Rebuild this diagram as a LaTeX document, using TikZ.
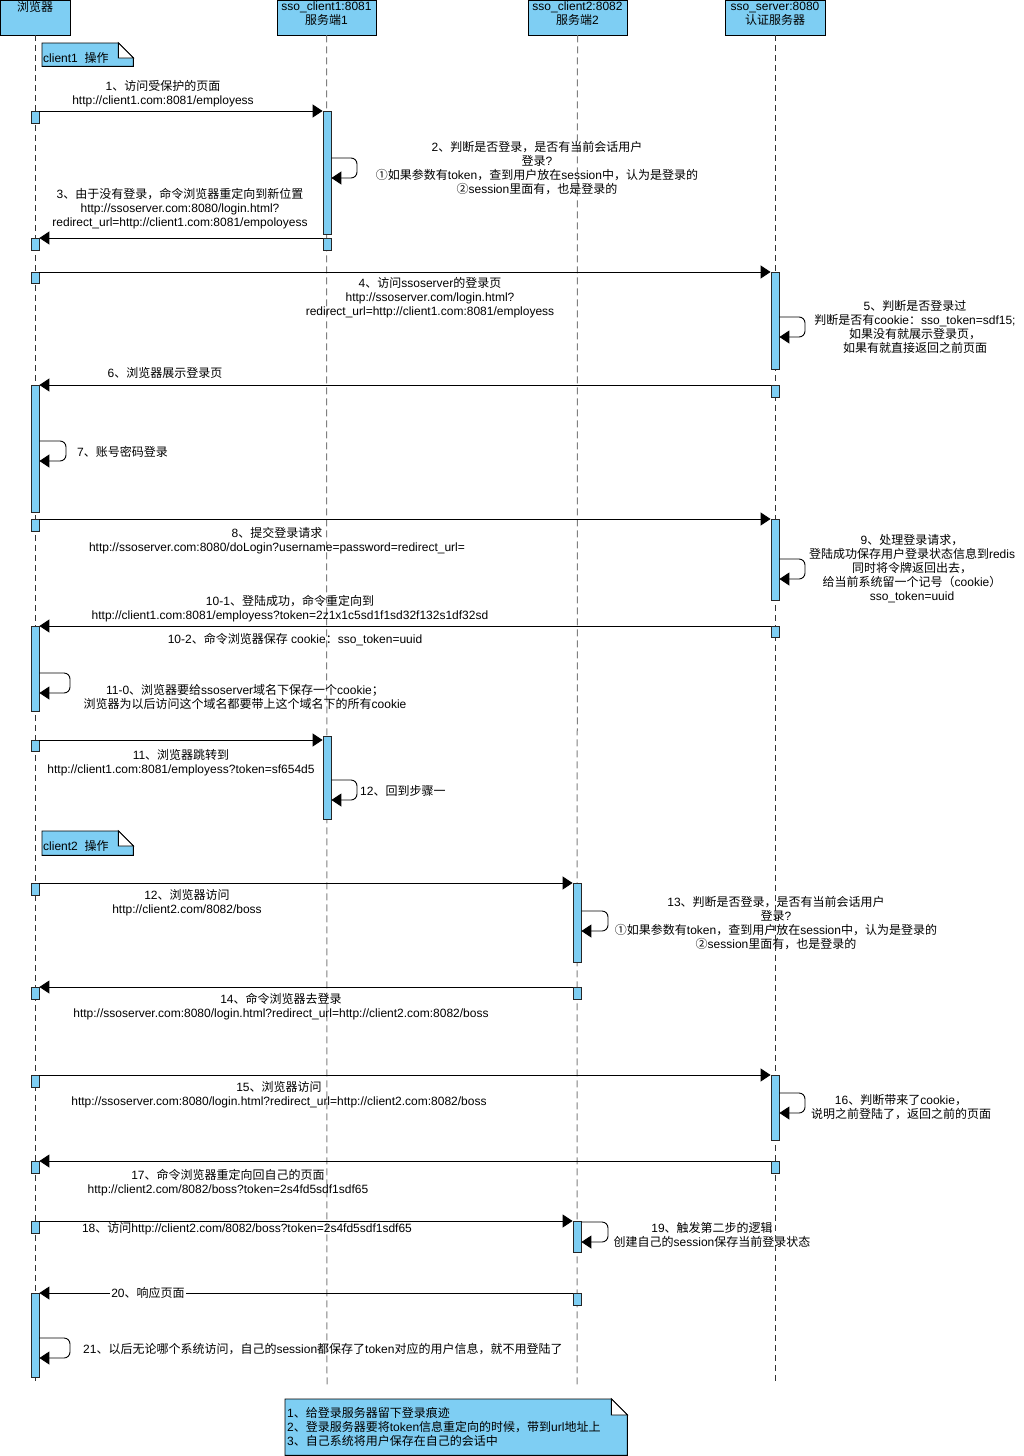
\documentclass[tikz,border=0pt]{standalone}
\usepackage{fontspec}
\setmainfont{Liberation Sans}
\newfontfamily\latinf{Liberation Sans}
\newfontfamily\cjkf{Noto Sans CJK SC}
\XeTeXinterchartokenstate=1
\newXeTeXintercharclass\cjkclass
\newcount\mycnt
\def\setcls#1#2{\mycnt=#1\relax
  \loop\XeTeXcharclass\mycnt=\cjkclass\relax
  \ifnum\mycnt<#2\relax\advance\mycnt by 1\relax\repeat}
\setcls{"3000}{"303F}
\setcls{"4E00}{"9FFF}
\setcls{"FF00}{"FFEF}
\setcls{"2460}{"24FF}
\XeTeXinterchartoks 0 \cjkclass = {\cjkf}
\XeTeXinterchartoks 4095 \cjkclass = {\cjkf}
\XeTeXinterchartoks \cjkclass 0 = {\latinf}
\XeTeXinterchartoks \cjkclass 4095 = {\latinf}
\usetikzlibrary{arrows.meta}
\definecolor{blu}{RGB}{126,206,243}
\begin{document}
\begin{tikzpicture}[x=1pt,y=-1pt,
  font=\fontsize{12}{14}\selectfont,
  headbox/.style={draw=black, line width=0.9pt, fill=blu, minimum height=35, inner sep=0},
  bar/.style={draw=black!85, line width=0.8pt, fill=blu, minimum width=8, anchor=north, inner sep=0},
  lifeA/.style={draw=black!80, line width=0.6pt, dash pattern=on 6pt off 4pt},
  lifeC/.style={draw=gray, line width=1pt, dash pattern=on 7pt off 4pt},
  msg/.style={draw=black, line width=0.9pt, -{Triangle[length=10pt,width=13pt]}},
  selfmsg/.style={msg, rounded corners=6pt},
  lbl/.style={align=center, inner sep=0, text=black, yshift=-0.5pt},
  notebody/.style={draw=black, line width=0.9pt, fill=blu},
  notefold/.style={draw=black, line width=0.9pt, fill=white},
]
\useasboundingbox (0,0) rectangle (1023,1456);

% ---------- heads ----------
\node[headbox, minimum width=70] (hB) at (35,17.5) {};
\node[headbox, minimum width=99] (hC1) at (326.5,17.5) {};
\node[headbox, minimum width=99] (hC2) at (577.5,17.5) {};
\node[headbox, minimum width=100] (hS) at (775,17.5) {};
\node[lbl, anchor=north] (tB) at ([yshift=-1.5pt]hB.north) {浏览器};
\node[lbl, anchor=north] (tC1) at ([yshift=-1.5pt]hC1.north) {sso\_client1:8081\\服务端1};
\node[lbl, anchor=north] (tC2) at ([yshift=-1.5pt]hC2.north) {sso\_client2:8082\\服务端2};
\node[lbl, anchor=north] (tS) at ([yshift=-1.5pt]hS.north) {sso\_server:8080\\认证服务器};

% ---------- lifelines ----------
\coordinate (eB) at (35,1385);
\coordinate (eC1) at (327,1385);
\coordinate (eC2) at (577,1385);
\coordinate (eS) at (775,1385);
\draw[lifeA] (hB.south) -- (eB);
\draw[lifeC] (hC1.south) -- (eC1);
\draw[lifeC] (hC2.south) -- (eC2);
\draw[lifeA] (hS.south) -- (eS);

% ---------- notes ----------
\node[minimum width=91, minimum height=23, inner sep=0, anchor=north west] (n1) at (42,43) {};
\filldraw[notebody] (n1.south west) -- (n1.north west) -- ([xshift=-15pt]n1.north east) -- ([yshift=-15pt]n1.north east) -- (n1.south east) -- cycle;
\filldraw[notefold] ([xshift=-15pt]n1.north east) -- ([xshift=-15pt,yshift=-15pt]n1.north east) -- ([yshift=-15pt]n1.north east) -- cycle;
\node[lbl, anchor=west] (n1t) at (43,57) {client1\ \ 操作};

\node[minimum width=91, minimum height=24, inner sep=0, anchor=north west] (n2) at (42,831) {};
\filldraw[notebody] (n2.south west) -- (n2.north west) -- ([xshift=-15pt]n2.north east) -- ([yshift=-15pt]n2.north east) -- (n2.south east) -- cycle;
\filldraw[notefold] ([xshift=-15pt]n2.north east) -- ([xshift=-15pt,yshift=-15pt]n2.north east) -- ([yshift=-15pt]n2.north east) -- cycle;
\node[lbl, anchor=west] (n2t) at (43,845) {client2\ \ 操作};

\node[minimum width=342, minimum height=56, inner sep=0, anchor=north west] (n3) at (285,1399) {};
\filldraw[notebody] (n3.south west) -- (n3.north west) -- ([xshift=-16pt]n3.north east) -- ([yshift=-16pt]n3.north east) -- (n3.south east) -- cycle;
\filldraw[notefold] ([xshift=-16pt]n3.north east) -- ([xshift=-16pt,yshift=-16pt]n3.north east) -- ([yshift=-16pt]n3.north east) -- cycle;
\node[lbl, anchor=west, align=left] (n3t) at (287,1426) {1、给登录服务器留下登录痕迹\\2、登录服务器要将token信息重定向的时候，带到url地址上\\3、自己系统将用户保存在自己的会话中};

% ---------- activation bars ----------
\node[bar, minimum height=12] (bB1) at (35,111) {};
\node[bar, minimum height=12] (bB2) at (35,238) {};
\node[bar, minimum height=11] (bB3) at (35,272) {};
\node[bar, minimum height=127] (bB4) at (35,385) {};
\node[bar, minimum height=12] (bB5) at (35,519) {};
\node[bar, minimum height=85] (bB6) at (35,626) {};
\node[bar, minimum height=11] (bB7) at (35,740) {};
\node[bar, minimum height=12] (bB8) at (35,883) {};
\node[bar, minimum height=12] (bB9) at (35,987) {};
\node[bar, minimum height=12] (bB10) at (35,1075) {};
\node[bar, minimum height=12] (bB11) at (35,1161) {};
\node[bar, minimum height=12] (bB12) at (35,1221) {};
\node[bar, minimum height=84] (bB13) at (35,1293) {};

\node[bar, minimum height=123] (bC1a) at (327,111) {};
\node[bar, minimum height=12] (bC1b) at (327,238) {};
\node[bar, minimum height=83] (bC1c) at (327,736) {};

\node[bar, minimum height=79] (bC2a) at (577,883) {};
\node[bar, minimum height=12] (bC2b) at (577,987) {};
\node[bar, minimum height=31] (bC2c) at (577,1221) {};
\node[bar, minimum height=12] (bC2d) at (577,1293) {};

\node[bar, minimum height=97] (bS1) at (775,272) {};
\node[bar, minimum height=12] (bS2) at (775,385) {};
\node[bar, minimum height=81] (bS3) at (775,519) {};
\node[bar, minimum height=11] (bS4) at (775,626) {};
\node[bar, minimum height=65] (bS5) at (775,1075) {};
\node[bar, minimum height=12] (bS6) at (775,1161) {};

% ---------- messages ----------
\draw[msg] (bB1.north east) -- (bC1a.north west);
\draw[msg] (bC1b.north west) -- (bB2.north east);
\draw[msg] (bB3.north east) -- (bS1.north west);
\draw[msg] (bS2.north west) -- (bB4.north east);
\draw[msg] (bB5.north east) -- (bS3.north west);
\draw[msg] (bS4.north west) -- (bB6.north east);
\draw[msg] (bB7.north east) -- (bB7.north east -| bC1c.west);
\draw[msg] (bB8.north east) -- (bC2a.north west);
\draw[msg] (bC2b.north west) -- (bB9.north east);
\draw[msg] (bB10.north east) -- (bS5.north west);
\draw[msg] (bS6.north west) -- (bB11.north east);
\draw[msg] (bB12.north east) -- (bC2c.north west);
\draw[msg] (bC2d.north west) -- (bB13.north east);

% ---------- self messages ----------
\draw[selfmsg] (bC1a.east |- 0,158) -- (357,158) -- (357,178) -- (bC1a.east |- 0,178);
\draw[selfmsg] (bS1.east |- 0,317) -- (805,317) -- (805,337) -- (bS1.east |- 0,337);
\draw[selfmsg] (bB4.east |- 0,441) -- (66,441) -- (66,461) -- (bB4.east |- 0,461);
\draw[selfmsg] (bS3.east |- 0,559) -- (805,559) -- (805,579) -- (bS3.east |- 0,579);
\draw[selfmsg] (bB6.east |- 0,673) -- (70,673) -- (70,693) -- (bB6.east |- 0,693);
\draw[selfmsg] (bC1c.east |- 0,780) -- (357,780) -- (357,800) -- (bC1c.east |- 0,800);
\draw[selfmsg] (bC2a.east |- 0,911) -- (608,911) -- (608,931) -- (bC2a.east |- 0,931);
\draw[selfmsg] (bS5.east |- 0,1093) -- (805,1093) -- (805,1113) -- (bS5.east |- 0,1113);
\draw[selfmsg] (bC2c.east |- 0,1222) -- (608,1222) -- (608,1242) -- (bC2c.east |- 0,1242);
\draw[selfmsg] (bB13.east |- 0,1338) -- (70,1338) -- (70,1358) -- (bB13.east |- 0,1358);

% ---------- labels ----------
\node[lbl] (l1) at (163,93) {1、访问受保护的页面\\http://client1.com:8081/employess};
\node[lbl] (l2) at (537,168) {2、判断是否登录，是否有当前会话用户\\登录?\\①如果参数有token，查到用户放在session中，认为是登录的\\②session里面有，也是登录的};
\node[lbl] (l3) at (180,208) {3、由于没有登录，命令浏览器重定向到新位置\\http://ssoserver.com:8080/login.html?\\redirect\_url=http://client1.com:8081/empoloyess};
\node[lbl] (l4) at (430,297) {4、访问ssoserver的登录页\\http://ssoserver.com/login.html?\\redirect\_url=http://client1.com:8081/employess};
\node[lbl] (l5) at (915,326) {5、判断是否登录过\\判断是否有cookie：sso\_token=sdf15;\\如果没有就展示登录页，\\如果有就直接返回之前页面};
\node[lbl] (l6) at (165,372) {6、浏览器展示登录页};
\node[lbl, anchor=west] (l7) at (77,451) {7、账号密码登录};
\node[lbl] (l8) at (277,540) {8、提交登录请求\\http://ssoserver.com:8080/doLogin?username=password=redirect\_url=};
\node[lbl] (l9) at (912,568) {9、处理登录请求，\\登陆成功保存用户登录状态信息到redis\\同时将令牌返回出去，\\给当前系统留一个记号（cookie）\\sso\_token=uuid};
\node[lbl] (l10a) at (290,608) {10-1、登陆成功，命令重定向到\\http://client1.com:8081/employess?token=2z1x1c5sd1f1sd32f132s1df32sd};
\node[lbl] (l10b) at (295,639) {10-2、命令浏览器保存 cookie：sso\_token=uuid};
\node[lbl] (l110) at (245,696) {11-0、浏览器要给ssoserver域名下保存一个cookie；\\浏览器为以后访问这个域名都要带上这个域名下的所有cookie};
\node[lbl] (l11) at (181,762) {11、浏览器跳转到\\http://client1.com:8081/employess?token=sf654d5};
\node[lbl, anchor=west] (l12) at (360,790) {12、回到步骤一};
\node[lbl] (l12b) at (187,902) {12、浏览器访问\\http://client2.com/8082/boss};
\node[lbl] (l13) at (776,923) {13、判断是否登录，是否有当前会话用户\\登录?\\①如果参数有token，查到用户放在session中，认为是登录的\\②session里面有，也是登录的};
\node[lbl] (l14) at (281,1006) {14、命令浏览器去登录\\http://ssoserver.com:8080/login.html?redirect\_url=http://client2.com:8082/boss};
\node[lbl] (l15) at (279,1094) {15、浏览器访问\\http://ssoserver.com:8080/login.html?redirect\_url=http://client2.com:8082/boss};
\node[lbl] (l16) at (901,1107) {16、判断带来了cookie，\\说明之前登陆了，返回之前的页面};
\node[lbl] (l17) at (228,1182) {17、命令浏览器重定向回自己的页面\\http://client2.com/8082/boss?token=2s4fd5sdf1sdf65};
\node[lbl] (l18) at (247,1228) {18、访问http://client2.com/8082/boss?token=2s4fd5sdf1sdf65};
\node[lbl] (l19) at (712,1234) {19、触发第二步的逻辑\\创建自己的session保存当前登录状态};
\node[lbl, fill=white, inner sep=1pt, yshift=0.5pt] (l20) at (148,1293) {20、响应页面};
\node[lbl, anchor=west] (l21) at (83,1349) {21、以后无论哪个系统访问，自己的session都保存了token对应的用户信息，就不用登陆了};
\end{tikzpicture}
\end{document}
